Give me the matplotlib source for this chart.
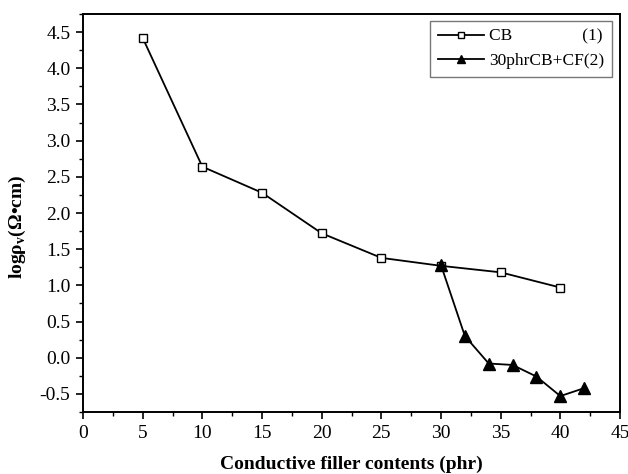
import numpy as np
import matplotlib.pyplot as plt
from matplotlib.ticker import MultipleLocator

# CB series (1)
cb_x = [5, 10, 15, 20, 25, 30, 35, 40]
cb_y = [4.42, 2.64, 2.28, 1.72, 1.38, 1.27, 1.18, 0.97]

# 30phr CB + CF series (2)
cf_x = [30, 32, 34, 36, 38, 40, 42]
cf_y = [1.28, 0.30, -0.08, -0.10, -0.26, -0.53, -0.42]

plt.rcParams['font.family'] = ['Liberation Serif', 'DejaVu Serif']
plt.rcParams['mathtext.fontset'] = 'custom'
plt.rcParams['mathtext.rm'] = 'Liberation Serif'
plt.rcParams['mathtext.bf'] = 'Liberation Serif:bold'
plt.rcParams['axes.unicode_minus'] = False

fig = plt.figure(figsize=(6.28, 4.74), dpi=100)
ax = fig.add_axes([83 / 628, 1 - 412 / 474, (620 - 83) / 628, (412 - 14) / 474])

ax.plot(cb_x, cb_y, color='black', lw=1.3, marker='s', ms=6,
        mfc='white', mec='black', mew=1.0, label='CB                (1)')
ax.plot(cf_x, cf_y, color='black', lw=1.3, marker='^', ms=8,
        mfc='black', mec='black', label='30phrCB+CF(2)')

ax.set_xlim(0, 45)
ax.set_ylim(-0.75, 4.75)
ax.xaxis.set_major_locator(MultipleLocator(5))
ax.xaxis.set_minor_locator(MultipleLocator(2.5))
ax.yaxis.set_minor_locator(MultipleLocator(0.25))
ax.set_yticks(np.arange(-0.5, 4.51, 0.5))
ax.tick_params(which='both', direction='out', top=False, right=False, labelsize=14)
ax.tick_params(which='major', length=5, width=1.2, pad=4)
ax.tick_params(which='minor', length=3, width=1.0)
for s in ax.spines.values():
    s.set_linewidth(1.4)

ax.set_xlabel('Conductive filler contents (phr)', fontsize=14, fontweight='bold', labelpad=10)
ax.set_ylabel(r'logρ$_\mathbf{v}$(Ω•cm)', fontsize=14, fontweight='bold')
ax.yaxis.set_label_coords(-0.103, 0.465)

leg = ax.legend(loc='upper right', fontsize=12.5, frameon=True, fancybox=False,
                handlelength=2.65, handletextpad=0.3, borderpad=0.45, labelspacing=0.45,
                markerscale=0.8, borderaxespad=0, bbox_to_anchor=(0.985, 0.983))
leg.get_frame().set_edgecolor('#555555')
leg.get_frame().set_linewidth(1.0)

fig.savefig('out.png', dpi=100)
